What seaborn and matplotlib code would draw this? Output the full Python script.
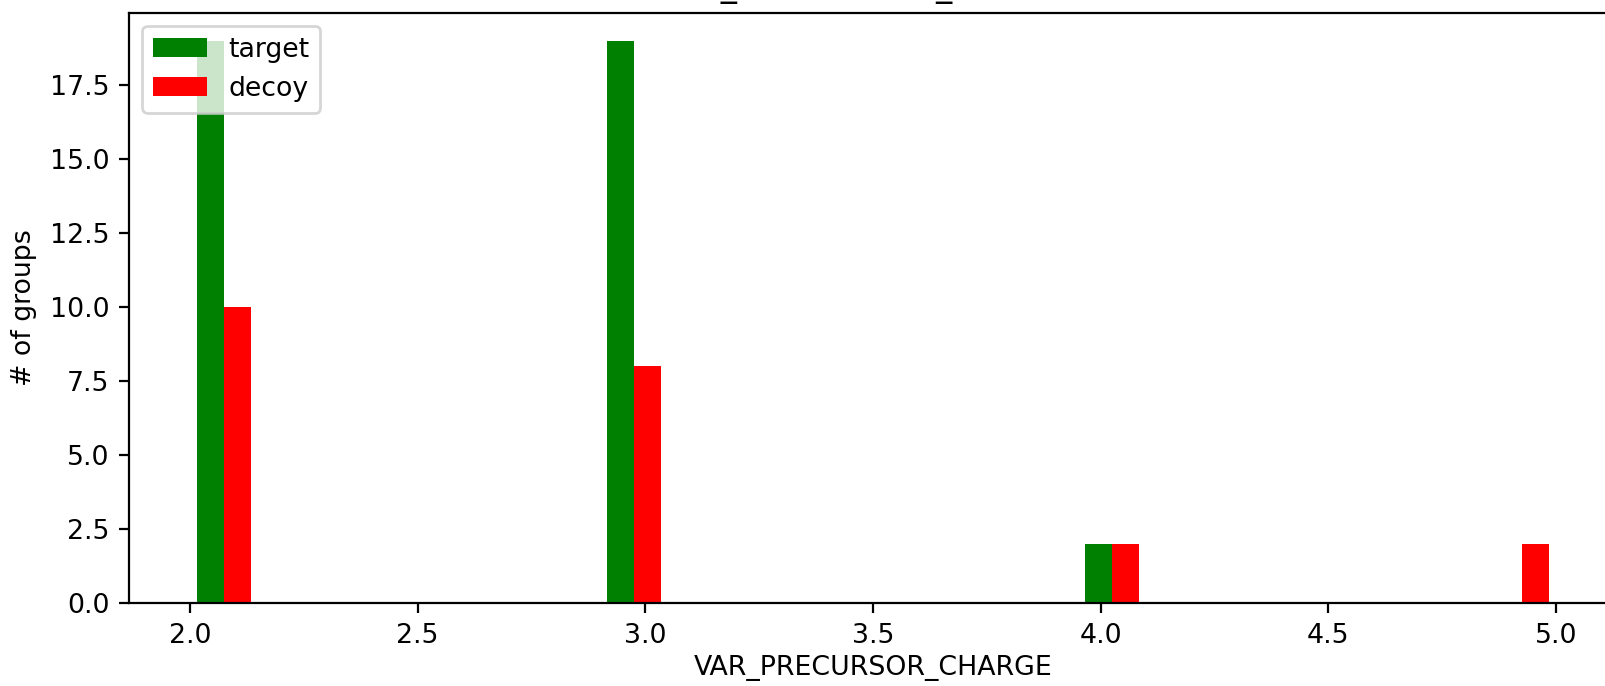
import numpy as np
import pandas as pd
import matplotlib
matplotlib.use("Agg")
import matplotlib.pyplot as plt
from matplotlib.patches import Patch
import seaborn as sns

# Data: precursor charge states of target and decoy groups (counts)
charges = [2, 3, 4, 5]
target_counts = [19, 19, 2, 0]
decoy_counts = [10, 8, 2, 2]
labels = ["target", "decoy"]
colors = {"target": "green", "decoy": "red"}

rows = []
for c, nt, nd in zip(charges, target_counts, decoy_counts):
    rows += [{"VAR_PRECURSOR_CHARGE": c, "decoy": "target"}] * nt
    rows += [{"VAR_PRECURSOR_CHARGE": c, "decoy": "decoy"}] * nd
df = pd.DataFrame(rows)

plt.rcParams["font.family"] = ["DejaVu Sans"]
plt.rcParams["font.size"] = 9.65

fig = plt.figure(figsize=(8.03, 3.43), dpi=200)
W, H = 1606, 686
left, right, top, bottom = 129, 1617, 12.5, 603.3
ax = fig.add_axes([left / W, 1 - bottom / H, (right - left) / W, (bottom - top) / H])

sns.histplot(data=df, x="VAR_PRECURSOR_CHARGE", hue="decoy", hue_order=labels,
             palette=colors, multiple="dodge", bins=20, binrange=(2, 5),
             shrink=0.8, alpha=1, edgecolor="none", linewidth=0,
             legend=False, ax=ax)

ax.set_ylabel("# of groups", labelpad=4.5)
ax.set_xlabel("VAR_PRECURSOR_CHARGE", labelpad=2.3)
ax.set_title("VAR_PRECURSOR_CHARGE", fontsize=11.6)
ax.margins(x=0.05, y=0.05)
ax.set_ylim(0, max(max(target_counts), max(decoy_counts)) * 1.05)

handles = [Patch(facecolor=colors[l], label=l) for l in labels]
ax.legend(handles=handles, loc="upper left")

fig.savefig("out.png", dpi=200)
